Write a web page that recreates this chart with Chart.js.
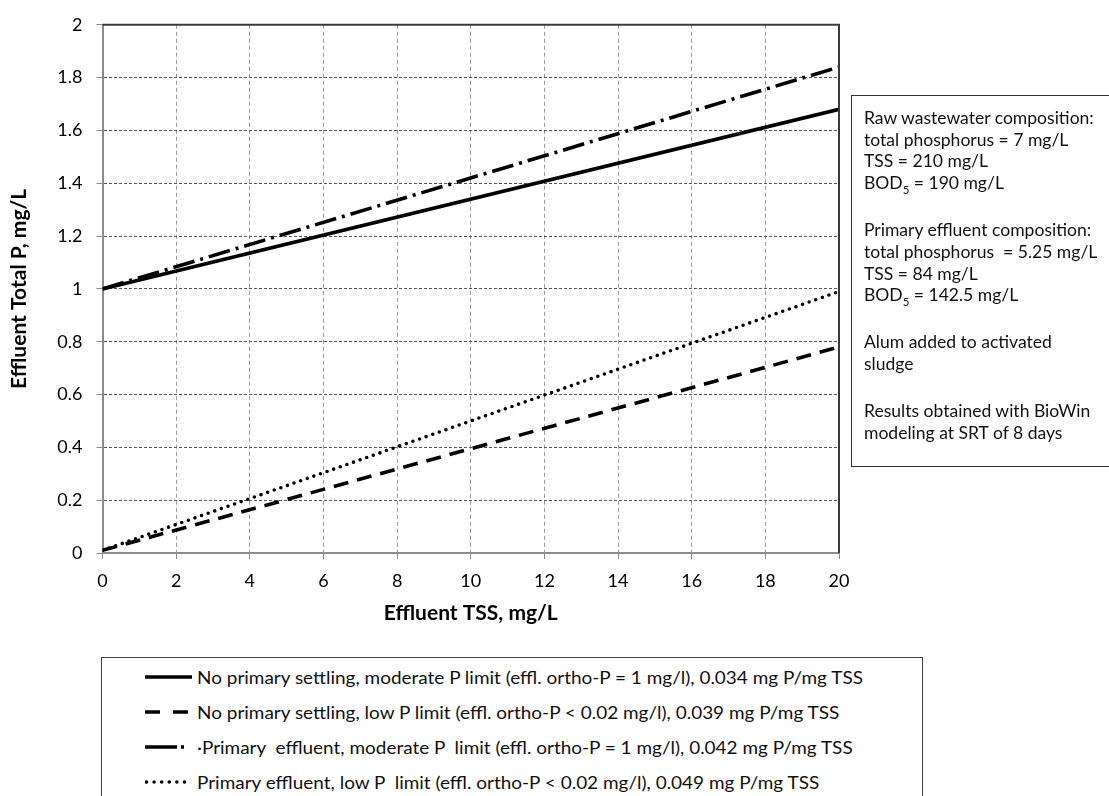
<!DOCTYPE html>
<html>
<head>
<meta charset="utf-8">
<script src="https://cdn.jsdelivr.net/npm/chart.js@4.4.0/dist/chart.umd.min.js"></script>
<style>
body { margin: 0; background: #fff; width: 1109px; height: 796px; overflow: hidden; position: relative; font-family: Lato, sans-serif; color: #111; }
#wrap { position: absolute; left: 0; top: 0; width: 1109px; height: 630px; }
#note { position: absolute; left: 851px; top: 95px; width: 300px; height: 372px; border: 1.5px solid #333; box-sizing: border-box; padding: 11px 0 0 12px; line-height: 21.7px; }
#note p { margin: 0 0 25.3px 0; white-space: nowrap; }
#note sub { font-size: 0.65em; line-height: 0; }
#legend { position: absolute; left: 101px; top: 657px; width: 822px; height: 170px; border: 1.5px solid #444; box-sizing: border-box; }
.row { position: absolute; left: 43px; height: 24px; display: flex; align-items: center; white-space: nowrap; }
.row svg { margin-right: 5px; flex: none; }
.row span { display: inline-block; transform-origin: left center; white-space: pre; }
</style>
</head>
<body>
<div id="wrap"><canvas id="chart" width="1109" height="630"></canvas></div>

<div id="note">
  <p>Raw wastewater composition:<br>total phosphorus = 7 mg/L<br>TSS = 210 mg/L<br>BOD<sub>5</sub> = 190 mg/L</p>
  <p>Primary effluent composition:<br>total phosphorus &nbsp;= 5.25 mg/L<br>TSS = 84 mg/L<br>BOD<sub>5</sub> = 142.5 mg/L</p>
  <p>Alum added to activated<br>sludge</p>
  <p>Results obtained with BioWin<br>modeling at SRT of 8 days</p>
</div>

<div id="legend"></div>

<script>
// data (straight lines, two points each)
const xVals = [0, 20];
const noPrimModerate = [1.0, 1.68];
const noPrimLow = [0.01, 0.78];
const primModerate = [1.0, 1.84];
const primLow = [0.01, 0.99];

const seriesNames = [
  'No primary settling, moderate P limit (effl. ortho-P = 1 mg/l), 0.034 mg P/mg TSS',
  'No primary settling, low P limit (effl. ortho-P < 0.02 mg/l), 0.039 mg P/mg TSS',
  '\u00b7Primary  effluent, moderate P  limit (effl. ortho-P = 1 mg/l), 0.042 mg P/mg TSS',
  'Primary effluent, low P  limit (effl. ortho-P < 0.02 mg/l), 0.049 mg P/mg TSS'
];

const yTickLabels = ['0', '0.2', '0.4', '0.6', '0.8', '1', '1.2', '1.4', '1.6', '1.8', '2'];
const xTickLabels = ['0', '2', '4', '6', '8', '10', '12', '14', '16', '18', '20'];

// line styles
const styles = [
  { dash: [], cap: 'butt', legendDash: '' },
  { dash: [15, 9], cap: 'butt', legendDash: '15 13' },
  { dash: [22, 6, 3, 6], cap: 'butt', legendDash: '32 4 3 20' },
  { dash: [0, 7], cap: 'round', legendDash: '0 7.6' }
];

const allValues = [noPrimModerate, noPrimLow, primModerate, primLow];

let datasets = allValues.map((vals, i) => ({
  label: seriesNames[i],
  data: xVals.map((x, j) => ({ x: x, y: vals[j] })),
  borderColor: '#000',
  borderWidth: 3.6,
  borderDash: styles[i].dash,
  borderCapStyle: styles[i].cap,
  pointRadius: 0,
  fill: false,
  tension: 0
}));

// dark frame on top and right edge of the plot
const frameTopRight = {
  id: 'frameTopRight',
  afterDraw(chart) {
    let ctx = chart.ctx;
    let a = chart.chartArea;
    ctx.save();
    ctx.strokeStyle = '#3a3a3a';
    ctx.lineWidth = 2;
    ctx.beginPath();
    ctx.moveTo(a.left, a.top);
    ctx.lineTo(a.right, a.top);
    ctx.lineTo(a.right, a.bottom);
    ctx.stroke();
    ctx.restore();
  }
};

let chart = new Chart(document.getElementById('chart'), {
  type: 'line',
  data: { datasets: datasets },
  plugins: [frameTopRight],
  options: {
    responsive: false,
    animation: false,
    layout: { padding: { top: 14, right: 270, left: 0, bottom: 0 } },
    plugins: { legend: { display: false }, tooltip: { enabled: false } },
    scales: {
      x: {
        type: 'linear', min: 0, max: 20,
        ticks: {
          stepSize: 2, padding: 11, color: '#000', maxRotation: 0,
          font: { family: 'Lato', size: 18 },
          callback: (v, i) => xTickLabels[i]
        },
        grid: { color: '#9a9a9a', lineWidth: 1, tickLength: 6, tickColor: '#8c8c8c' },
        border: { color: '#8c8c8c', width: 2, dash: [4, 3] },
        title: {
          display: true, text: 'Effluent TSS, mg/L', color: '#000',
          font: { family: 'Lato', size: 21, weight: 'bold' },
          padding: { top: 4, bottom: 4 }
        },
        afterFit: s => { s.height = 77; }
      },
      y: {
        min: 0, max: 2,
        ticks: {
          stepSize: 0.2, padding: 14, color: '#000',
          font: { family: 'Lato', size: 18 },
          callback: (v, i) => yTickLabels[i]
        },
        grid: { color: '#555', lineWidth: 1, tickLength: 6, tickColor: '#8c8c8c' },
        border: { color: '#8c8c8c', width: 2, dash: [3, 2] },
        title: {
          display: true, text: 'Effluent Total P, mg/L', color: '#000',
          font: { family: 'Lato', size: 21, weight: 'bold' },
          padding: { top: 7, bottom: 4 }
        },
        afterFit: s => { s.width = 102.5; }
      }
    }
  }
});

// fit the note text size to the original width
let mctx = document.createElement('canvas').getContext('2d');
mctx.font = '16px Lato';
let noteSize = 16 * 231 / mctx.measureText('Raw wastewater composition:').width;
document.getElementById('note').style.fontSize = noteSize.toFixed(2) + 'px';

// legend built from the datasets
let legend = document.getElementById('legend');
mctx.font = '18px Lato';
let k = 668 / mctx.measureText(seriesNames[0]).width;
datasets.forEach((ds, i) => {
  let row = document.createElement('div');
  row.className = 'row';
  row.style.top = (20 + i * 35 - 12 - 1.5) + 'px';
  let svg = document.createElementNS('http://www.w3.org/2000/svg', 'svg');
  svg.setAttribute('width', '47');
  svg.setAttribute('height', '10');
  let ln = document.createElementNS('http://www.w3.org/2000/svg', 'line');
  ln.setAttribute('x1', i == 3 ? '1.5' : '0');
  ln.setAttribute('x2', '47');
  ln.setAttribute('y1', '5');
  ln.setAttribute('y2', '5');
  ln.setAttribute('stroke', '#000');
  ln.setAttribute('stroke-width', '3.6');
  ln.setAttribute('stroke-linecap', styles[i].cap);
  if (styles[i].legendDash) ln.setAttribute('stroke-dasharray', styles[i].legendDash);
  svg.appendChild(ln);
  let sp = document.createElement('span');
  sp.style.fontSize = '18px';
  sp.style.transform = 'scaleX(' + k.toFixed(4) + ')';
  sp.textContent = ds.label;
  row.appendChild(svg);
  row.appendChild(sp);
  legend.appendChild(row);
});
</script>
</body>
</html>
